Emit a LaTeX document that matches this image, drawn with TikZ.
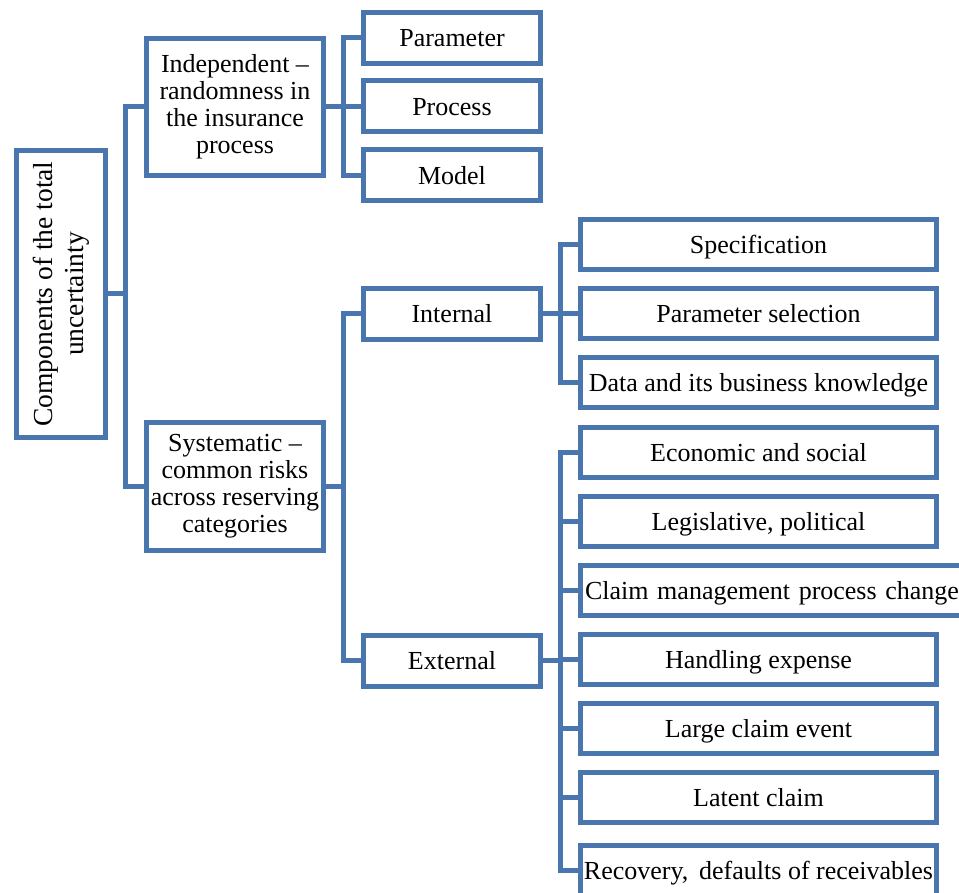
\documentclass[tikz,border=0pt]{standalone}
\usepackage{fontspec}
\setmainfont{Liberation Serif}
\usepackage{tikz}
\usetikzlibrary{positioning}
\definecolor{boxblue}{RGB}{74,118,176}

\begin{document}
\begin{tikzpicture}[
    x=1pt, y=-1pt,
    box/.style={rectangle, draw=boxblue, line width=5pt, align=center, inner sep=2pt, font=\fontsize{26}{27}\selectfont},
    midbox/.style={box, minimum width=177pt, minimum height=51pt, text height=24pt, text depth=6pt},
    leaf/.style={box, minimum width=356pt, minimum height=50pt, text height=24pt, text depth=6pt},
    relation/.style={draw=boxblue, line width=5pt}
]

\useasboundingbox (0,0) rectangle (959,893);

% Root (rotated, so its right side is .south)
\node[box, minimum width=287pt, minimum height=89pt, rotate=90, font=\fontsize{27.5}{31}\selectfont] (root) at (61,294) {Components of the total\\uncertainty};

% Second level
\node[box, minimum width=177pt, minimum height=137pt] (indep) at (235,107) {Independent --\\randomness in\\the insurance\\process};
\node[box, minimum width=177pt, minimum height=128pt] (syst) at (235,486.5) {Systematic --\\common risks\\across reserving\\categories};

% Third level
\node[midbox] (param) at (452,38) {Parameter};
\node[midbox] (process) at (452,106.5) {Process};
\node[midbox] (model) at (452,175.5) {Model};
\node[midbox] (internal) at (452,314) {Internal};
\node[midbox] (external) at (452,660.5) {External};

% Internal sources
\node[leaf] (spec) at (758.5,244.5) {Specification};
\node[leaf] (parsel) at (758.5,313.5) {Parameter selection};
\node[leaf] (data) at (758.5,382.5) {Data and its business knowledge};

% External sources
\node[leaf] (econ) at (758.5,452.5) {Economic and social};
\node[leaf] (legis) at (758.5,521) {Legislative, political};
\node[box, anchor=west, minimum height=50pt, text height=24pt, text depth=6pt, text width=400pt, align=left, inner xsep=4.5pt] (claim) at (578,590) {Claim management process change};
\node[leaf] (handling) at (758.5,659.5) {Handling expense};
\node[leaf] (large) at (758.5,728.5) {Large claim event};
\node[leaf] (latent) at (758.5,797.5) {Latent claim};
\node[leaf] (recovery) at (758.5,870) {Recovery,\, defaults of receivables};

% Relations
\draw[relation] (root.south) -- ++(17.5,0) |- (indep.west);
\draw[relation] (root.south) -- ++(17.5,0) |- (syst.west);

\draw[relation] (indep.east) -- ++(17.5,0) |- (param.west);
\draw[relation] (indep.east) -- ++(17.5,0) |- (process.west);
\draw[relation] (indep.east) -- ++(17.5,0) |- (model.west);

\draw[relation] (syst.east) -- ++(17.5,0) |- (internal.west);
\draw[relation] (syst.east) -- ++(17.5,0) |- (external.west);

\draw[relation] (internal.east) -- ++(17.5,0) |- (spec.west);
\draw[relation] (internal.east) -- ++(17.5,0) |- (parsel.west);
\draw[relation] (internal.east) -- ++(17.5,0) |- (data.west);

\draw[relation] (external.east) -- ++(17.5,0) |- (econ.west);
\draw[relation] (external.east) -- ++(17.5,0) |- (legis.west);
\draw[relation] (external.east) -- ++(17.5,0) |- (claim.west);
\draw[relation] (external.east) -- ++(17.5,0) |- (handling.west);
\draw[relation] (external.east) -- ++(17.5,0) |- (large.west);
\draw[relation] (external.east) -- ++(17.5,0) |- (latent.west);
\draw[relation] (external.east) -- ++(17.5,0) |- (recovery.west);

\end{tikzpicture}
\end{document}
